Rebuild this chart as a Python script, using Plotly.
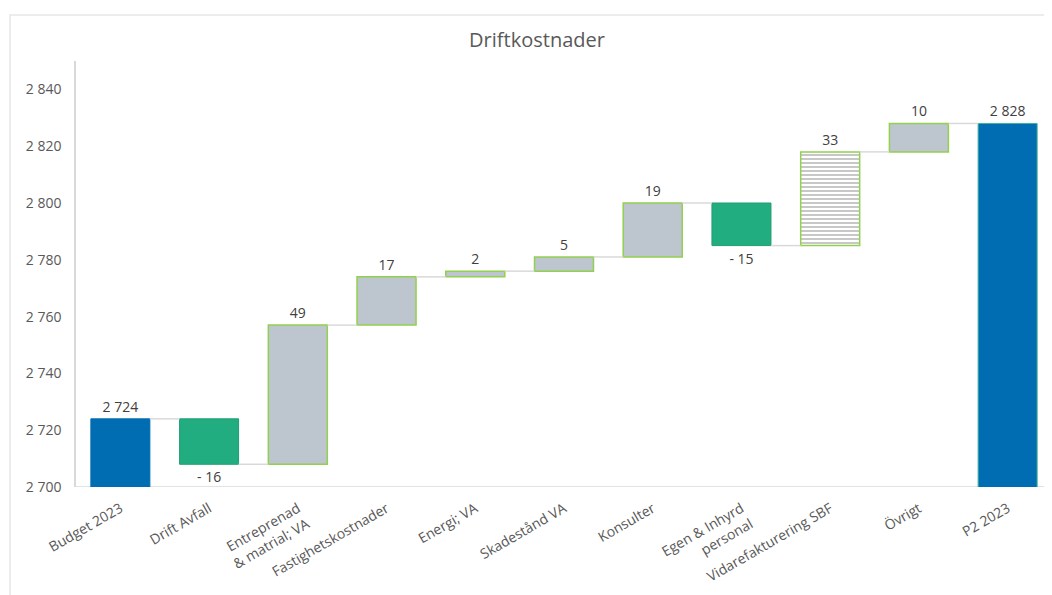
import plotly.graph_objects as go

# ---- data ----
categories = ["Budget 2023", "Drift Avfall", "Entreprenad<br>& matrial; VA", "Fastighetskostnader",
              "Energi; VA", "Skadestånd VA", "Konsulter", "Egen & Inhyrd<br>personal",
              "Vidarefakturering SBF", "Övrigt", "P2 2023"]
values = [2724, -16, 49, 17, 2, 5, 19, -15, 33, 10, 2828]
measures = ["total", "relative", "relative", "relative", "relative", "relative",
            "relative", "relative", "relative", "relative", "total"]
y_ticks = [2700, 2720, 2740, 2760, 2780, 2800, 2820, 2840]

# ---- derived ----
bases, heights, ends = [], [], []
running = 0
for v, m in zip(values, measures):
    if m == "total":
        bases.append(0)
        heights.append(v)
        running = v
    else:
        bases.append(running)
        heights.append(v)
        running += v
    ends.append(running)

def fmt(v, m):
    if m == "total":
        return f"{v:,}".replace(",", " ")
    if v < 0:
        return f"- {abs(v)}"
    return f"{v}"

texts = [fmt(v, m) for v, m in zip(values, measures)]

BLUE = "#006CB1"
GREEN = "#22AD80"
GREY = "#BDC5CF"
EDGE = "#92D050"

fill, edge, edgew, pshape = [], [], [], []
for i, (v, m) in enumerate(zip(values, measures)):
    if m == "total":
        fill.append(BLUE); edge.append("#3BB39A" if i > 0 else BLUE); edgew.append(1)
        pshape.append("")
    elif v < 0:
        fill.append(GREEN); edge.append("#1E9E70"); edgew.append(1)
        pshape.append("")
    elif categories[i].startswith("Vidarefakturering"):
        fill.append("white"); edge.append(EDGE); edgew.append(1.5)
        pshape.append("-")
    else:
        fill.append(GREY); edge.append(EDGE); edgew.append(1.5)
        pshape.append("")

xs = list(range(len(categories)))
bw = 0.665

fig = go.Figure()

# connector lines
for i in range(len(categories) - 1):
    fig.add_trace(go.Scatter(
        x=[xs[i] + bw / 2, xs[i + 1] - bw / 2], y=[ends[i], ends[i]],
        mode="lines", line=dict(color="#D9D9D9", width=1.5),
        hoverinfo="skip", showlegend=False))

fig.add_trace(go.Bar(
    x=xs, y=heights, base=bases, width=bw,
    marker=dict(color=fill, line=dict(color=edge, width=edgew),
                pattern=dict(shape=pshape, fgcolor="#B8C0CB", bgcolor="white",
                             size=4, solidity=0.3, fillmode="overlay")),
    text=texts, textposition="outside", constraintext="none", cliponaxis=False,
    textfont=dict(family="Open Sans", size=14, color="#404040"),
    showlegend=False))

W, H = 1044, 587
L, T, B = 68, 53, 108
plot_w = W - L
plot_h = H - T - B

fig.update_layout(
    width=W, height=H,
    margin=dict(l=L, r=0, t=T, b=B),
    paper_bgcolor="white", plot_bgcolor="white",
    separators=", ",
    title=dict(text="Driftkostnader", x=529 / W, xref="container", xanchor="center",
               y=1 - 32 / H, yref="container", yanchor="middle",
               font=dict(family="Open Sans", size=20, color="#595959")),
    font=dict(family="Open Sans", color="#595959"),
)
fig.update_xaxes(
    range=[-0.5, len(categories) - 0.5],
    tickmode="array", tickvals=xs, ticktext=categories, tickangle=-30,
    tickfont=dict(family="Open Sans", size=14, color="#595959"),
    showgrid=False, zeroline=False, showline=False, ticks="", ticklabelstandoff=10,
)
fig.update_yaxes(
    range=[2700, 2850],
    tickmode="array", tickvals=y_ticks, ticktext=[f"{t:,}".replace(",", " ") for t in y_ticks],
    tickfont=dict(family="Open Sans", size=14, color="#595959"),
    showgrid=False, zeroline=False, showline=True, linecolor="#D9D9D9", linewidth=1.5,
    ticks="", ticklabelstandoff=10,
)

# x axis baseline at 2700
fig.add_shape(type="line", xref="paper", yref="y", x0=0, x1=1, y0=2700, y1=2700,
              line=dict(color="#D9D9D9", width=1.5), layer="below")
# outer chart frame (bottom and right edges fall outside the view, as in the reference)
fig.add_shape(type="rect", xref="paper", yref="paper",
              x0=(2 - L) / plot_w, x1=1.02, y0=-(B + 10) / plot_h, y1=1 + (T - 7) / plot_h,
              line=dict(color="#E6E6E6", width=1.5))

fig.write_html("out.html")
